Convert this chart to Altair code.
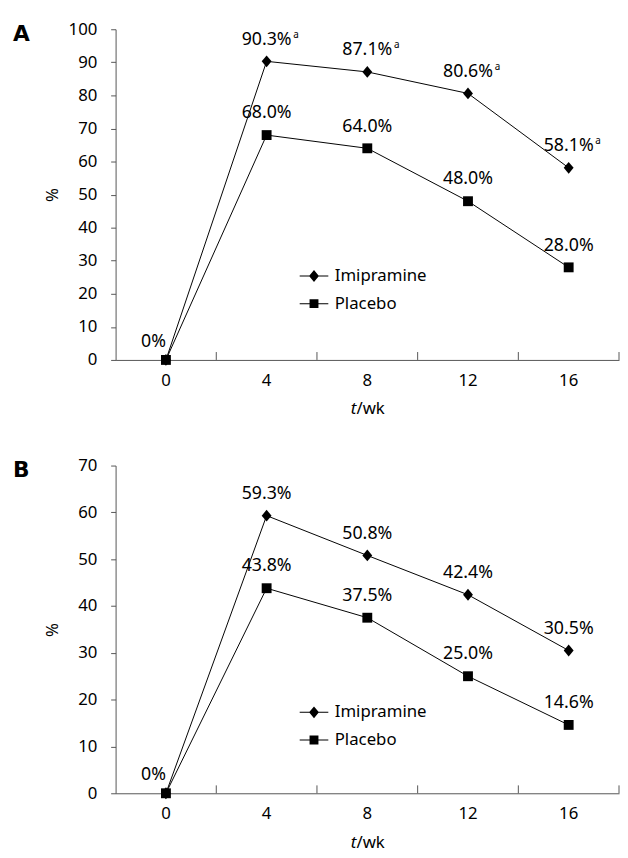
import altair as alt
import pandas as pd

weeks = ["0", "4", "8", "12", "16"]
series_names = ["Imipramine", "Placebo"]

a_imipramine = [0, 90.3, 87.1, 80.6, 58.1]
a_placebo = [0, 68.0, 64.0, 48.0, 28.0]
a_imipramine_labels = ["", "90.3%", "87.1%", "80.6%", "58.1%"]
a_imipramine_sup = ["", "a", "a", "a", "a"]
a_placebo_labels = ["0%", "68.0%", "64.0%", "48.0%", "28.0%"]

b_imipramine = [0, 59.3, 50.8, 42.4, 30.5]
b_placebo = [0, 43.8, 37.5, 25.0, 14.6]
b_imipramine_labels = ["", "59.3%", "50.8%", "42.4%", "30.5%"]
b_imipramine_sup = ["", "", "", "", ""]
b_placebo_labels = ["0%", "43.8%", "37.5%", "25.0%", "14.6%"]

FONT = "Noto Sans"
AX = "#555555"
W = 510

# marker shapes (unit box) and legend glyphs (line + marker, all filled)
DIAMOND = "M0,-1.2L1,0L0,1.2L-1,0Z"
LEG_DIAMOND = "M-1.45,-0.05L1.45,-0.05L1.45,0.05L-1.45,0.05Z M0,-0.6L0.5,0L0,0.6L-0.5,0Z"
LEG_SQUARE = "M-1.45,-0.05L1.45,-0.05L1.45,0.05L-1.45,0.05Z M-0.45,-0.45L0.45,-0.45L0.45,0.45L-0.45,0.45Z"


def make_df(imi, pla, imi_lab, imi_sup, pla_lab):
    rows = []
    for i, w in enumerate(weeks):
        rows.append({"week": w, "series": "Imipramine", "value": imi[i],
                     "label": imi_lab[i], "sup": imi_sup[i]})
    for i, w in enumerate(weeks):
        rows.append({"week": w, "series": "Placebo", "value": pla[i],
                     "label": pla_lab[i], "sup": ""})
    return pd.DataFrame(rows)


def panel(df, ymax, H, letter):
    base = alt.Chart(df)
    xscale = alt.Scale(type="band", domain=weeks, paddingInner=0, paddingOuter=0)
    xaxis = alt.Axis(title=None, ticks=False, grid=False,
                     labelFontSize=17, labelPadding=13, labelFont=FONT,
                     labelColor="black", labelAngle=0,
                     domainColor=AX, domainWidth=1)

    def xc(pos=0.5):
        return alt.X("week:O", sort=weeks, bandPosition=pos, scale=xscale, axis=xaxis)

    yticks = list(range(0, ymax + 1, 10))
    y = alt.Y("value:Q", scale=alt.Scale(domain=[0, ymax], nice=False),
              axis=alt.Axis(values=yticks, tickCount=len(yticks), title="%",
                            titleX=-64, titleY=H / 2, titleAngle=-90,
                            titleFontSize=17, titleFont=FONT, titleFontWeight="normal",
                            titleColor="black", titleBaseline="middle",
                            labelFontSize=17, labelFont=FONT, labelColor="black",
                            labelOverlap=False,
                            labelPadding=14, tickSize=5, tickColor=AX,
                            domainColor=AX, grid=False))

    line = base.mark_line(color="black", strokeWidth=1).encode(
        x=xc(), y=y, detail="series:N")

    # category-boundary ticks pointing up into the plot
    ticks_a = base.mark_rule(color=AX, strokeWidth=1).encode(
        x=xc(0), y=alt.value(H - 8), y2=alt.value(H)
    ).transform_filter("datum.series == 'Imipramine' && datum.week != '0'")
    ticks_b = base.mark_rule(color=AX, strokeWidth=1).encode(
        x=xc(1), y=alt.value(H - 8), y2=alt.value(H)
    ).transform_filter("datum.series == 'Imipramine' && datum.week == '16'")

    pts = base.mark_point(filled=True, color="black", opacity=1, size=100).encode(
        x=xc(), y=y,
        shape=alt.Shape("series:N", scale=alt.Scale(domain=series_names,
                                                    range=[DIAMOND, "square"]),
                        legend=None))

    leg = base.mark_point(filled=True, color="black", opacity=1).encode(
        x=xc(), y=y,
        shape=alt.Shape("series:N", scale=alt.Scale(domain=series_names,
                                                    range=[LEG_DIAMOND, LEG_SQUARE]),
                        legend=alt.Legend(orient="none", legendX=191, legendY=240,
                                          title=None, labelFontSize=17, labelFont=FONT,
                                          labelColor="black", symbolSize=400,
                                          rowPadding=10, labelOffset=11, padding=0,
                                          symbolFillColor="black",
                                          symbolStrokeWidth=0))
    ).transform_filter("false")

    labels = base.mark_text(fontSize=18, font=FONT, dy=-22, baseline="middle",
                            align="center", color="black").encode(
        x=xc(), y=y, text="label:N"
    ).transform_filter("datum.week != '0'")

    sups = base.mark_text(fontSize=10, font=FONT, dx=27, dy=-27, baseline="middle",
                          align="left", color="black").encode(
        x=xc(), y=y, text="sup:N"
    ).transform_filter("datum.week != '0'")

    zero = base.mark_text(fontSize=18, font=FONT, dy=-18, dx=0, baseline="middle",
                          align="right", color="black").encode(
        x=xc(), y=y, text="label:N"
    ).transform_filter("datum.week == '0' && datum.series == 'Placebo'")

    small = alt.Chart(pd.DataFrame({"letter": [letter], "t": ["t"], "wk": ["/wk"]}))
    let = small.mark_text(fontSize=22, font="DejaVu Sans", fontWeight="bold",
                          align="left", baseline="middle", color="black").encode(
        text="letter:N", x=alt.value(-104), y=alt.value(5))
    tt = small.mark_text(fontSize=17, font=FONT, fontStyle="italic", align="right",
                         baseline="middle", color="black").encode(
        text="t:N", x=alt.value(244), y=alt.value(H + 50))
    wk = small.mark_text(fontSize=17, font=FONT, align="left",
                         baseline="middle", color="black").encode(
        text="wk:N", x=alt.value(244), y=alt.value(H + 50))

    return alt.layer(line, ticks_a, ticks_b, pts, leg, labels, sups, zero,
                     let, tt, wk).resolve_scale(
        shape="independent").properties(width=W, height=H)


df_a = make_df(a_imipramine, a_placebo, a_imipramine_labels, a_imipramine_sup, a_placebo_labels)
df_b = make_df(b_imipramine, b_placebo, b_imipramine_labels, b_imipramine_sup, b_placebo_labels)

chart = alt.vconcat(
    panel(df_a, 100, 335, "A"),
    panel(df_b, 70, 332, "B"),
    spacing=40,
).configure_view(stroke=None).properties(
    padding={"left": 5, "top": 7, "right": 0, "bottom": 0},
    background="white",
)

chart.save("out.html", embed_options={"renderer": "svg", "actions": False})
